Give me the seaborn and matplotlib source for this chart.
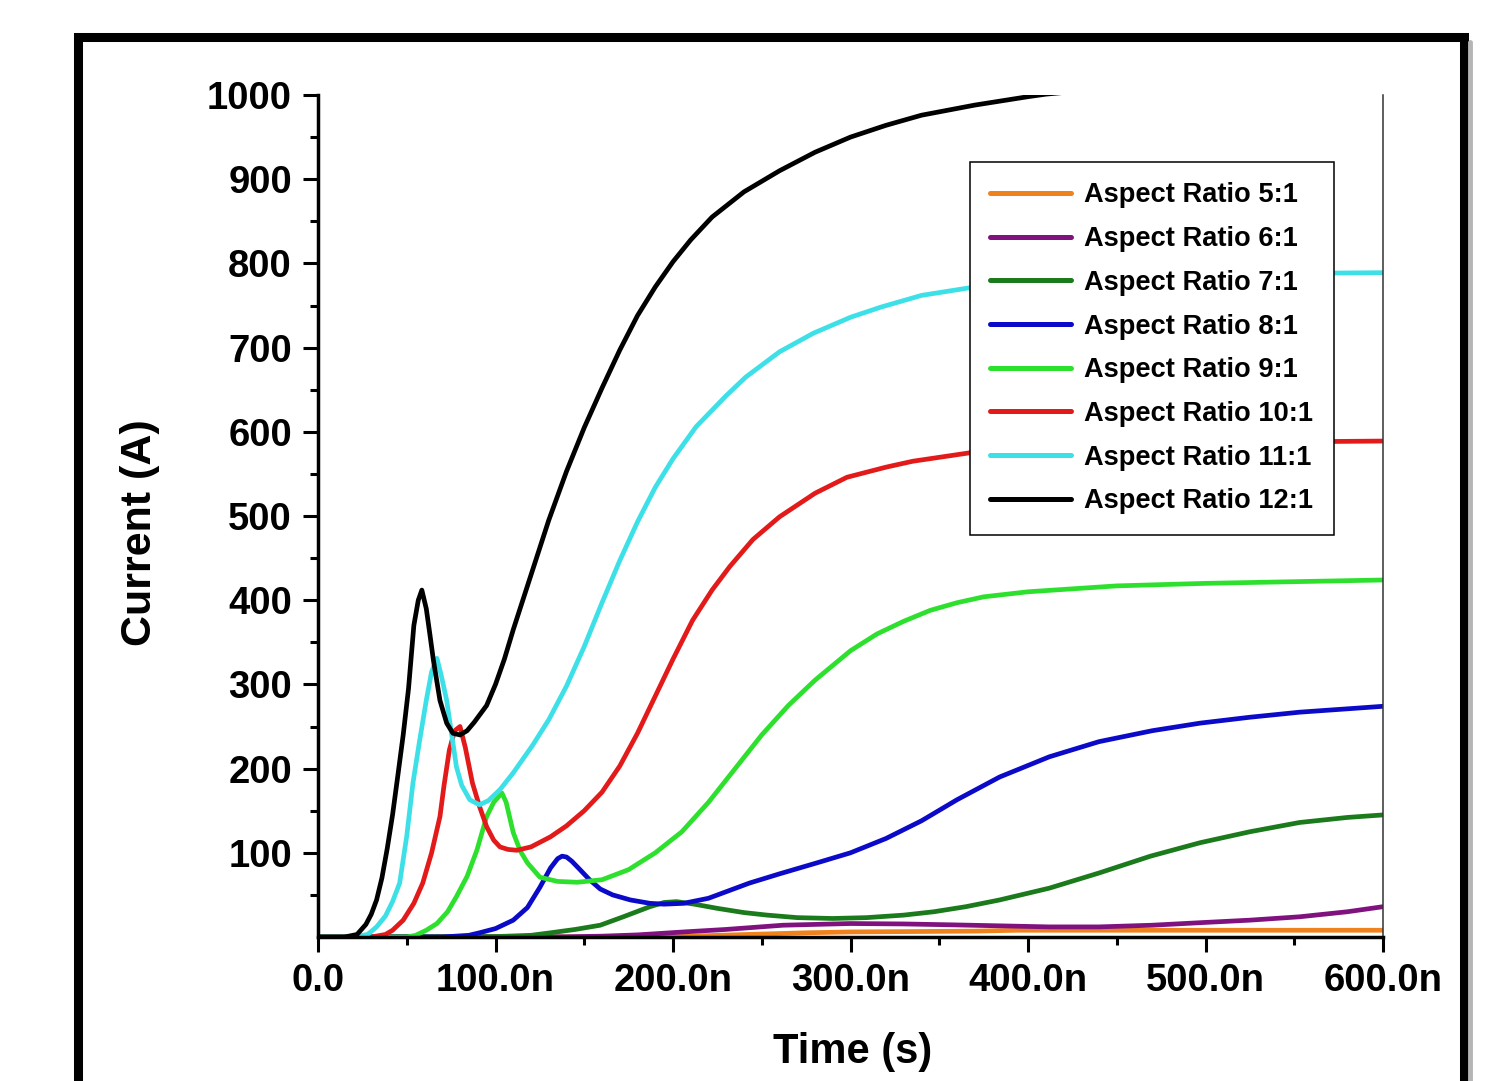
import numpy as np
import pandas as pd
import matplotlib
matplotlib.use("Agg")
import matplotlib.pyplot as plt
import seaborn as sns
from matplotlib.lines import Line2D
from matplotlib.patches import Rectangle

# ---------------- data (time in ns, current in A) ----------------
series_names = ["Aspect Ratio 5:1", "Aspect Ratio 6:1", "Aspect Ratio 7:1",
                "Aspect Ratio 8:1", "Aspect Ratio 9:1", "Aspect Ratio 10:1",
                "Aspect Ratio 11:1", "Aspect Ratio 12:1"]
series_colors = ["#F0821E", "#7F127F", "#1B7A1B", "#0A0AC8",
                 "#2EE02E", "#E31A1A", "#3EE0E8", "#000000"]

t_5 = [0, 190, 210, 225, 250, 275, 300, 337, 370, 394, 450, 500, 600]
i_5 = [0, 0, 1, 2, 3.5, 5, 6, 6.5, 7, 8, 8, 8, 8]

t_6 = [0, 140, 160, 180, 206, 230, 262, 300, 330, 356, 390, 412, 440, 470,
       497, 525, 553, 580, 600]
i_6 = [0, 0.3, 1, 2.5, 6, 9, 14, 16, 15.5, 14.5, 13, 12, 12, 14,
       17, 20, 24, 30, 36]

t_7 = [0, 100, 120, 131, 145, 159, 172, 187, 195, 202, 212, 225, 240, 253,
       270, 290, 309, 330, 347, 365, 384, 412, 440, 469, 497, 525, 553, 580, 600]
i_7 = [0, 0.5, 2, 5, 9, 14, 24, 36, 41, 42, 39, 34, 29, 26,
       23, 22, 23, 26, 30, 36, 44, 58, 76, 96, 112, 125, 136, 142, 145]

t_8 = [0, 70, 85, 91, 100, 110, 118, 125, 131, 135, 137.5, 140, 143, 147.6,
       153, 159, 166, 176, 187, 195, 206, 220, 243, 260, 281, 300, 320, 340,
       360, 384, 412, 440, 470, 497, 525, 553, 580, 600]
i_8 = [0, 0, 2, 5, 10, 20, 35, 59, 82, 93, 96, 95, 90, 80,
       68, 57, 50, 44, 40, 39, 40, 46, 64, 75, 88, 100, 117, 138,
       163, 190, 214, 232, 245, 254, 261, 267, 271, 274]

t_9 = [0, 50, 55, 61, 67, 73, 78, 84, 89.5, 95, 99, 103.6, 106, 110, 114,
       118, 125, 135, 146, 160, 175, 190, 205, 220, 235, 250, 265, 280, 300,
       315, 330, 345, 360, 375, 400, 450, 500, 550, 600]
i_9 = [0, 0, 2, 8, 16, 30, 48, 72, 103, 143, 160, 171, 160, 124, 102,
       88, 71, 66, 65, 68, 80, 100, 125, 160, 200, 240, 275, 305, 340,
       360, 375, 388, 397, 404, 410, 417, 420, 422, 424]

t_10 = [0, 30, 38, 42, 48, 54, 59, 64, 68.7, 71, 74, 77, 80, 83, 87, 91, 95,
        99, 102.5, 107, 112, 120, 131, 140, 150, 160, 170, 180, 190, 200, 211,
        222, 232, 245, 260, 280, 298, 320, 335, 367, 420, 480, 540, 600]
i_10 = [0, 0, 3, 8, 20, 40, 64, 100, 143, 180, 222, 245, 250, 225, 183, 155, 131,
        115, 107, 104, 103, 107, 119, 132, 150, 172, 203, 242, 286, 330, 376,
        412, 440, 472, 499, 527, 546, 558, 565, 575, 582, 586, 588, 589]

t_11 = [0, 20, 28, 33, 38, 42, 46, 50, 53.5, 57, 61, 64, 67, 69.5, 72.5, 75,
        78, 81, 85.5, 91, 96, 102.5, 110, 121, 130, 140, 150, 160, 170, 180,
        190, 200, 213, 230, 241, 260, 279, 300, 317, 340, 367, 400, 440, 480,
        540, 600]
i_11 = [0, 0, 3, 12, 25, 42, 64, 120, 183, 230, 281, 315, 331, 310, 281, 245,
        202, 180, 163, 157, 162, 175, 195, 228, 258, 298, 345, 397, 447, 493,
        534, 568, 606, 643, 665, 695, 717, 736, 748, 762, 771, 778, 783, 786,
        788, 789]

t_12 = [0, 15, 22, 27, 30, 33, 36, 39, 42, 45, 48, 51, 54, 56.5, 58.5, 61, 63,
        65, 68.7, 72.5, 76, 80, 84, 88, 95, 100, 105, 110, 120, 130, 140, 150,
        160, 170, 180, 190, 200, 210, 222, 240, 260, 280, 300, 320, 340, 370,
        400, 410, 430, 450, 500, 550, 600]
i_12 = [0, 0, 3, 15, 27, 44, 70, 105, 145, 192, 240, 295, 370, 400, 412, 390, 360,
        329, 281, 254, 242, 240, 245, 255, 275, 300, 330, 365, 430, 495, 553, 605,
        652, 697, 738, 772, 802, 828, 855, 885, 910, 932, 950, 964, 976, 988,
        998, 1001, 1005, 1008, 1012, 1015, 1017]

x_ticks = [0, 100, 200, 300, 400, 500, 600]
x_tick_labels = ["0.0", "100.0n", "200.0n", "300.0n", "400.0n", "500.0n", "600.0n"]
x_minor_ticks = [50, 150, 250, 350, 450, 550]
y_ticks = [100, 200, 300, 400, 500, 600, 700, 800, 900, 1000]
y_tick_labels = ["100", "200", "300", "400", "500", "600", "700", "800", "900", "1000"]
y_minor_ticks = [50, 150, 250, 350, 450, 550, 650, 750, 850, 950]

x_label = "Time (s)"
y_label = "Current (A)"

# ---------------- build long-form table ----------------
all_t = [t_5, t_6, t_7, t_8, t_9, t_10, t_11, t_12]
all_i = [i_5, i_6, i_7, i_8, i_9, i_10, i_11, i_12]
frames = []
for name, tt, ii in zip(series_names, all_t, all_i):
    frames.append(pd.DataFrame({"t": tt, "I": ii, "series": name}))
df = pd.concat(frames, ignore_index=True)

# ---------------- style ----------------
sns.set_theme(style="ticks")
plt.rcParams["font.family"] = ["Liberation Sans", "DejaVu Sans"]
plt.rcParams["font.weight"] = "bold"
plt.rcParams["axes.labelweight"] = "bold"

W, H = 1502, 1081
fig = plt.figure(figsize=(W / 100, H / 100), dpi=100)
fig.patch.set_facecolor("white")
ax = fig.add_axes([318 / W, 1 - 937 / H, (1383 - 318) / W, (937 - 95) / H])
ax.set_facecolor("white")

palette = dict(zip(series_names, series_colors))
sns.lineplot(data=df, x="t", y="I", hue="series", hue_order=series_names,
             palette=palette, sort=False, estimator=None, lw=3.4,
             legend=False, ax=ax)
for ln in ax.get_lines():
    ln.set_solid_joinstyle("round")

ax.set_xlim(0, 600)
ax.set_ylim(0, 1000)
ax.set_xticks(x_ticks)
ax.set_xticklabels(x_tick_labels)
ax.set_xticks(x_minor_ticks, minor=True)
ax.set_yticks(y_ticks)
ax.set_yticklabels(y_tick_labels)
ax.set_yticks(y_minor_ticks, minor=True)
ax.tick_params(which="major", length=10.8, width=2.2, direction="out",
               labelsize=27.5, pad=8, color="black", labelcolor="black")
ax.tick_params(which="minor", length=5.8, width=2.2, direction="out", color="black")
for lab in ax.get_xticklabels() + ax.get_yticklabels():
    lab.set_fontweight("bold")

ax.spines["top"].set_visible(False)
ax.spines["right"].set_linewidth(1.1)
ax.spines["right"].set_color("#333333")
ax.spines["left"].set_linewidth(2.5)
ax.spines["bottom"].set_linewidth(2.5)
ax.spines["left"].set_color("black")
ax.spines["bottom"].set_color("black")

ax.set_xlabel(x_label, fontsize=30, fontweight="bold", va="center", color="black")
ax.set_ylabel(y_label, fontsize=31, fontweight="bold", va="center", color="black")
ax.xaxis.set_label_coords(0.502, -0.137)
ax.yaxis.set_label_coords(-0.167, 0.48)

# legend
handles = [Line2D([0], [0], color=c, lw=3.6, solid_capstyle="round") for c in series_colors]
leg = ax.legend(handles, series_names, loc="upper left",
                bbox_to_anchor=(970 / W, 1 - 162 / H), bbox_transform=fig.transFigure,
                borderaxespad=0, prop={"size": 19.6, "weight": "bold"},
                handlelength=2.95, handletextpad=0.5, labelspacing=0.65,
                borderpad=0.75, frameon=True, fancybox=False, framealpha=1,
                edgecolor="black")
leg.get_frame().set_linewidth(1.1)
for txt in leg.get_texts():
    txt.set_color("black")

# outer frame with shadow on the right
fig.add_artist(Line2D([1470 / W, 1470 / W], [1 - 42 / H, -0.1],
                      transform=fig.transFigure, color="#b5b5b5", lw=3.5))
fig.add_artist(Rectangle((77.5 / W, -0.1), (1463.5 - 77.5) / W, (1 - 37.5 / H) + 0.1,
                         transform=fig.transFigure, fill=False, ec="black",
                         lw=6.5, joinstyle="miter"))

fig.savefig("out.png", dpi=100, facecolor="white")
